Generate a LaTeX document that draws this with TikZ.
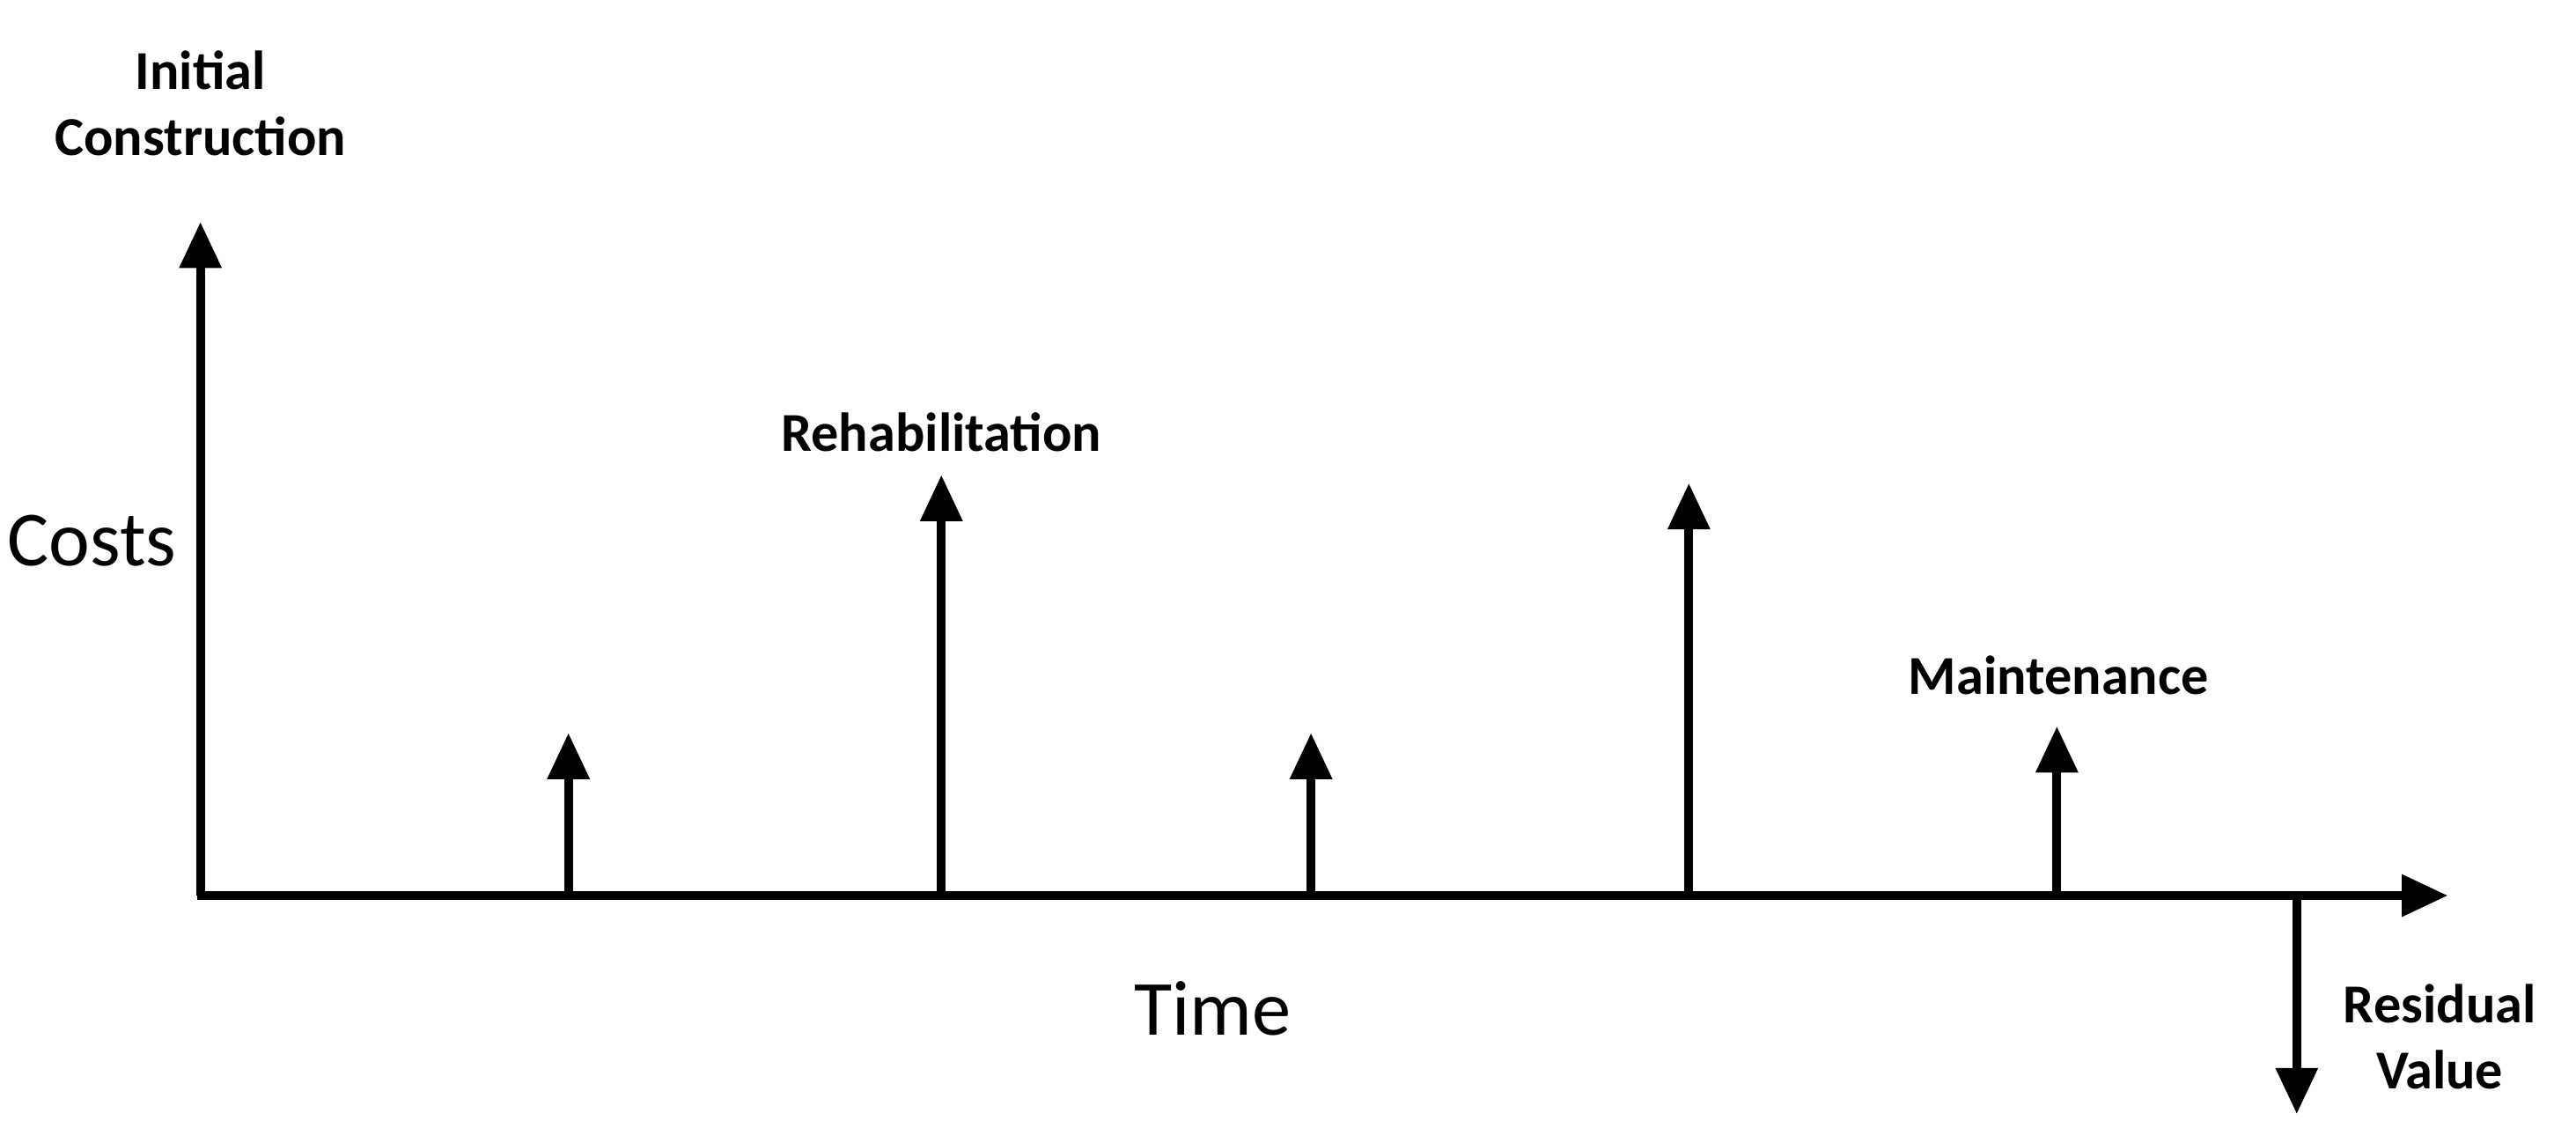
\documentclass[tikz,border=0pt]{standalone}
\usepackage{fontspec}
\setmainfont{Carlito}
\usetikzlibrary{arrows.meta}
\tikzset{
  axis/.style  = { line width=1.5pt, -{Triangle[length=8pt,width=7pt]} },
  cost/.style  = { line width=1.5pt, -{Triangle[length=8pt,width=7pt]} },
  label/.style = { font=\bfseries\fontsize{9.5}{11.5}\selectfont, align=center },
  big/.style   = { font=\fontsize{13.5}{16}\selectfont },
}
\begin{document}
\begin{tikzpicture}[x=1cm,y=1cm]
  \useasboundingbox (0,0) rectangle (15.68,6.86);
  \coordinate (O) at (1.22,1.41);
  \coordinate (ytop) at (1.22,5.51);
  \coordinate (xend) at (14.90,1.41);
  \draw [axis] (O) -- (ytop);
  \draw [axis] (1.20,1.41) -- (xend);
  % costs over time
  \foreach \x/\h [count=\i] in {3.46/0.99,5.73/2.56,7.98/0.99,10.28/2.51,12.52/1.03} {
    \coordinate (b\i) at (\x,1.41);
    \coordinate (t\i) at (\x,1.41+\h);
    \draw [cost] (b\i) -- (t\i);
  }
  \coordinate (r0) at (13.98,1.41);
  \coordinate (r1) at (13.98,0.08);
  \draw [cost] (r0) -- (r1);
  \node[label] (init) at (1.22,6.23) {Initial\\Construction};
  \node[big]   (costs) at (0.56,3.57) {Costs};
  \node[label] (rehab) at (5.73,4.23) {Rehabilitation};
  \node[label] (maint) at (12.53,2.75) {Maintenance};
  \node[big]   (time) at (7.38,0.72) {Time};
  \node[label] (resid) at (14.85,0.55) {Residual\\Value};
\end{tikzpicture}
\end{document}
